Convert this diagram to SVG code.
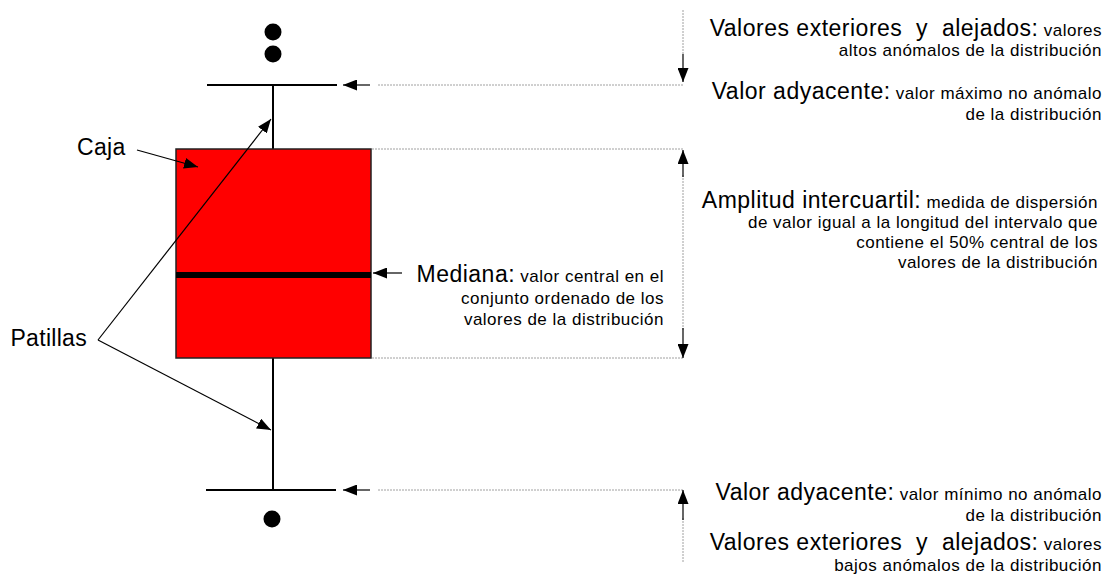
<svg xmlns="http://www.w3.org/2000/svg" width="1110" height="579" viewBox="0 0 1110 579">
<style>
text{font-family:"Liberation Sans",Arial,sans-serif;fill:#000;letter-spacing:0.5px;white-space:pre}
.b{font-size:23px}
.s{font-size:17px}
.r{text-anchor:end}
.lbl{font-size:23px;letter-spacing:0.3px}
.dash{stroke:#a0a0a0;stroke-width:1;stroke-dasharray:2,1;fill:none}
.ln{stroke:#000;stroke-width:1.2;fill:none}
.wh{stroke:#000;stroke-width:2;fill:none}
.dot{fill:#000}
</style>
<defs>
<marker id="ah" viewBox="0 0 14 11" refX="14" refY="5.5" markerWidth="14" markerHeight="11" markerUnits="userSpaceOnUse" orient="auto">
<path d="M0,0 L14,5.5 L0,11 Z" fill="#000"/>
</marker>
</defs>
<rect width="1110" height="579" fill="#fff"/>

<g id="boxplot">
<line class="wh" x1="273" y1="85" x2="273" y2="149"/>
<line class="wh" x1="273" y1="358" x2="273" y2="490"/>
<line class="wh" x1="207" y1="85" x2="337" y2="85"/>
<line class="wh" x1="206" y1="490" x2="336" y2="490"/>
<rect x="176" y="149" width="195" height="209" fill="#ff0000" stroke="#222" stroke-width="1.5"/>
<rect x="176" y="272" width="195" height="6" fill="#000"/>
</g>
<g id="outliers">
<circle class="dot" cx="273" cy="32" r="8.5"/>
<circle class="dot" cx="273" cy="54" r="8.5"/>
<circle class="dot" cx="272" cy="519" r="8.5"/>
</g>

<g id="connectors">
<line class="dash" x1="378" y1="85" x2="683" y2="85"/>
<line class="dash" x1="372" y1="149" x2="683" y2="149"/>
<line class="dash" x1="372" y1="358" x2="683" y2="358"/>
<line class="dash" x1="378" y1="490" x2="683" y2="490"/>
<line class="dash" x1="683" y1="10" x2="683" y2="55"/>
<line class="dash" x1="683" y1="175" x2="683" y2="330"/>
<line class="dash" x1="683" y1="518" x2="683" y2="563"/>
<line class="ln" x1="683" y1="54" x2="683" y2="82" marker-end="url(#ah)"/>
<line class="ln" x1="683" y1="177" x2="683" y2="150" marker-end="url(#ah)"/>
<line class="ln" x1="683" y1="328" x2="683" y2="358" marker-end="url(#ah)"/>
<line class="ln" x1="683" y1="520" x2="683" y2="490" marker-end="url(#ah)"/>
<line class="ln" x1="370" y1="85" x2="343" y2="85" marker-end="url(#ah)"/>
<line class="ln" x1="370" y1="490" x2="343" y2="490" marker-end="url(#ah)"/>
<line class="ln" x1="402" y1="273" x2="373" y2="273" marker-end="url(#ah)"/>
<line class="ln" x1="137" y1="150" x2="198" y2="167" marker-end="url(#ah)"/>
<line class="ln" x1="98" y1="340" x2="271" y2="119" marker-end="url(#ah)"/>
<line class="ln" x1="98" y1="340" x2="271" y2="430" marker-end="url(#ah)"/>
</g>

<g id="label-caja">
<text class="lbl" x="77" y="155">Caja</text>
</g>
<g id="label-patillas">
<text class="lbl r" x="87" y="346">Patillas</text>
</g>

<g id="label-mediana">
<text class="r" x="664" y="282"><tspan class="b">Mediana:</tspan><tspan class="s"> valor central en el</tspan></text>
<text class="s r" x="664" y="304">conjunto ordenado de los</text>
<text class="s r" x="664" y="325">valores de la distribución</text>
</g>

<g id="label-outliers-top">
<text class="r" x="1102" y="36"><tspan class="b">Valores exteriores  y  alejados:</tspan><tspan class="s"> valores</tspan></text>
<text class="s r" x="1102" y="56">altos anómalos de la distribución</text>
</g>
<g id="label-adj-top">
<text class="r" x="1102" y="99"><tspan class="b">Valor adyacente:</tspan><tspan class="s"> valor máximo no anómalo</tspan></text>
<text class="s r" x="1102" y="120">de la distribución</text>
</g>
<g id="label-iqr">
<text class="r" x="1098" y="208"><tspan class="b">Amplitud intercuartil:</tspan><tspan class="s"> medida de dispersión</tspan></text>
<text class="s r" x="1098" y="228">de valor igual a la longitud del intervalo que</text>
<text class="s r" x="1098" y="248">contiene el 50% central de los</text>
<text class="s r" x="1098" y="268">valores de la distribución</text>
</g>
<g id="label-adj-bottom">
<text class="r" x="1102" y="500"><tspan class="b">Valor adyacente:</tspan><tspan class="s"> valor mínimo no anómalo</tspan></text>
<text class="s r" x="1102" y="521">de la distribución</text>
</g>
<g id="label-outliers-bottom">
<text class="r" x="1102" y="550"><tspan class="b">Valores exteriores  y  alejados:</tspan><tspan class="s"> valores</tspan></text>
<text class="s r" x="1102" y="571">bajos anómalos de la distribución</text>
</g>
</svg>
